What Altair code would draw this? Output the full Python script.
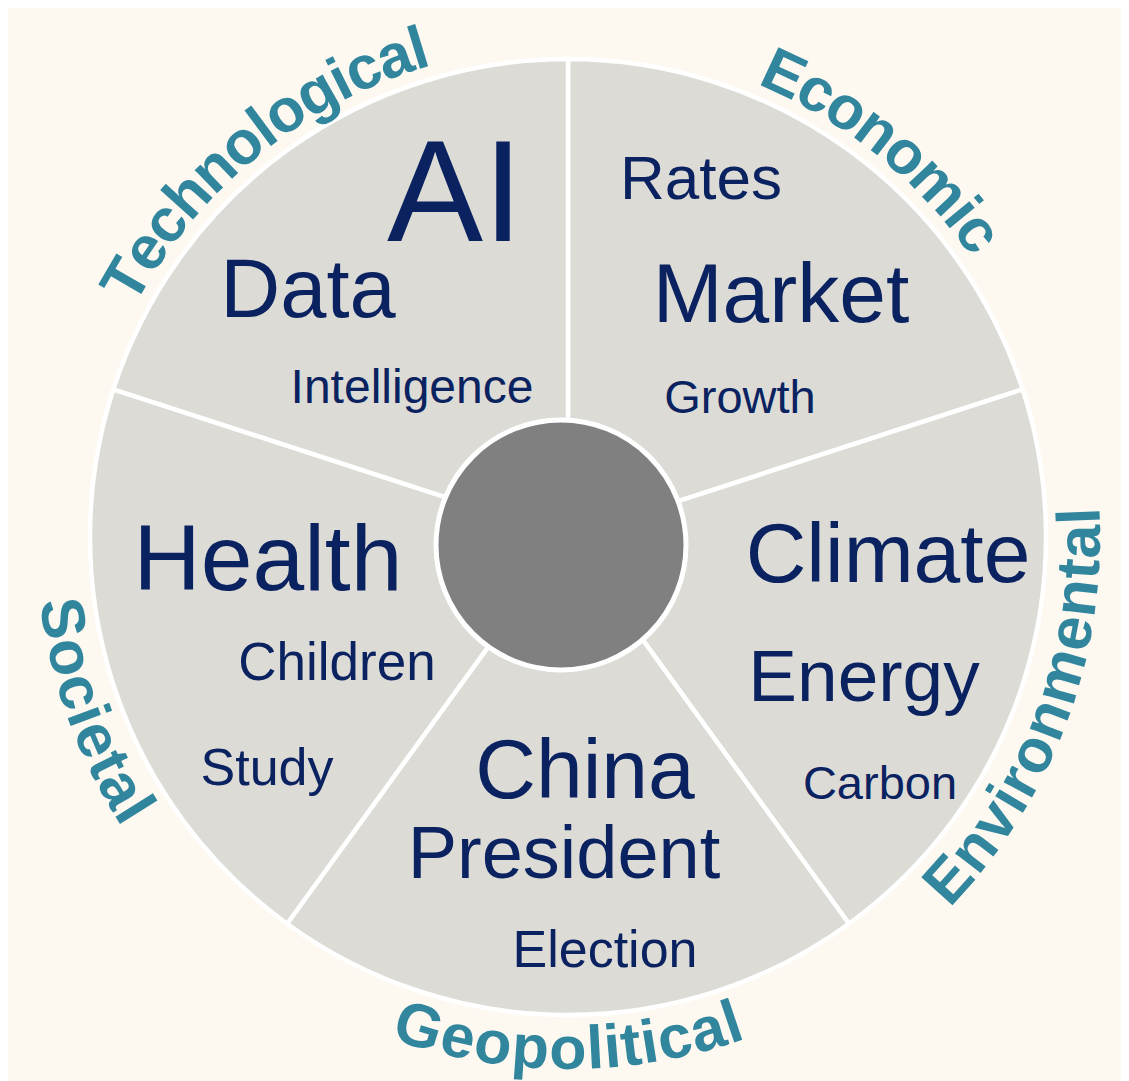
import math
import altair as alt
import pandas as pd

# ---------------- data ----------------
categories = ["Economic", "Environmental", "Geopolitical", "Societal", "Technological"]
category_share = [1, 1, 1, 1, 1]
label_reads_inward = [False, True, True, True, False]

words = ["AI", "Data", "Intelligence",
         "Rates", "Market", "Growth",
         "Climate", "Energy", "Carbon",
         "China", "President", "Election",
         "Health", "Children", "Study"]
word_category = ["Technological"] * 3 + ["Economic"] * 3 + ["Environmental"] * 3 + \
                ["Geopolitical"] * 3 + ["Societal"] * 3
word_weight = [144, 83, 48,
               62, 84, 47,
               84, 73, 47,
               84, 74, 52,
               93, 53, 52]

# word-cloud layout: offsets (px) of each word's centre/baseline from the wheel centre
word_dx = [-113, -260, -156,
           133, 213, 172,
           320, 296, 312,
           17, -4, 37,
           -300, -231, -301]
word_dy = [-296, -220, -134,
           -338, -215, -124,
           45, 164, 262,
           261, 341, 430,
           53, 143, 248]

# layout nudge (degrees) of each curved category label from its sector's mid-angle
label_nudge_deg = [3, 2.5, 0, -2, -3]

# ---------------- styles ----------------
W, H = 1113, 1073
CX, CY = 560, 529
R = 478
HUB_D = 250
HUB_X, HUB_Y = CX - 7, CY + 8
LABEL_SIZE = 61
BG = "#FDF9F1"
SECTOR = "#DCDBD6"
HUB = "#808080"
NAVY = "#0A2260"
TEAL = "#31869E"
FONT = "Liberation Sans"

# Liberation Sans Bold advance widths (per 1000 em)
BOLD_W = {"E": 667, "G": 778, "S": 667, "T": 611,
          "a": 556, "c": 556, "e": 556, "g": 611, "h": 611, "i": 278,
          "l": 278, "m": 889, "n": 611, "o": 611, "p": 611, "r": 389,
          "t": 333, "v": 556}

sector_df = pd.DataFrame({"cat": categories, "share": category_share,
                          "idx": list(range(len(categories)))})
word_df = pd.DataFrame({"word": words, "cat": word_category, "weight": word_weight,
                        "dx": word_dx, "dy": word_dy})

# characters of the curved category labels
rows = []
for i, (cat, inward) in enumerate(zip(categories, label_reads_inward)):
    mid = (sum(category_share[:i]) + category_share[i] / 2) / sum(category_share) * 2 * math.pi
    mid += math.radians(label_nudge_deg[i])
    widths = [BOLD_W[c] * LABEL_SIZE / 1000 for c in cat]
    total = sum(widths)
    if inward:
        r_base = R + 54
        r_mid = r_base - 0.36 * LABEL_SIZE
        d = -1
    else:
        r_base = R + 13
        r_mid = r_base + 0.36 * LABEL_SIZE
        d = 1
    start = mid - d * (total / r_mid) / 2
    cum = 0.0
    for k, (ch, w) in enumerate(zip(cat, widths)):
        th = start + d * (cum + w / 2) / r_mid
        cum += w
        rot = (math.degrees(th) + (180 if inward else 0)) % 360
        rows.append({"cat": cat, "k": k, "ch": ch, "th": th, "r": r_base, "rot": rot})
label_df = pd.DataFrame(rows)

# ---------------- chart ----------------
sectors = alt.Chart(sector_df).mark_arc(
    radius=R, fill=SECTOR, stroke="white", strokeWidth=4.5
).encode(
    theta=alt.Theta("share:Q", stack=True),
    order=alt.Order("idx:Q"),
    detail="cat:N",
    x=alt.value(CX),
    y=alt.value(CY),
)

hub = alt.Chart(pd.DataFrame({"hub": [1]})).mark_circle(
    size=HUB_D ** 2, fill=HUB, stroke="white", strokeWidth=5, opacity=1
).encode(x=alt.value(HUB_X), y=alt.value(HUB_Y))

cloud = alt.Chart(word_df).mark_text(
    font=FONT, color=NAVY, align="center", baseline="alphabetic"
).encode(
    x=alt.X("dx:Q", scale=alt.Scale(domain=[-CX, W - CX], range=[0, W], nice=False, zero=False), axis=None),
    y=alt.Y("dy:Q", scale=alt.Scale(domain=[-CY, H - CY], range=[0, H], nice=False, zero=False), axis=None),
    size=alt.Size("weight:Q", scale=None),
    text="word:N",
)

labels = alt.Chart(label_df).mark_text(
    font=FONT, fontWeight="bold", fontSize=LABEL_SIZE, color=TEAL,
    align="center", baseline="alphabetic"
).encode(
    theta=alt.Theta("th:Q", scale=None),
    radius=alt.Radius("r:Q", scale=None),
    angle=alt.Angle("rot:Q", scale=None),
    text="ch:N",
    x=alt.value(CX),
    y=alt.value(CY),
)

chart = alt.layer(sectors, hub, cloud, labels).properties(
    width=W, height=H, padding=0, autosize="none", background=BG
).configure_view(strokeWidth=0)

chart.save("out.html", embed_options={"renderer": "svg", "actions": False})
